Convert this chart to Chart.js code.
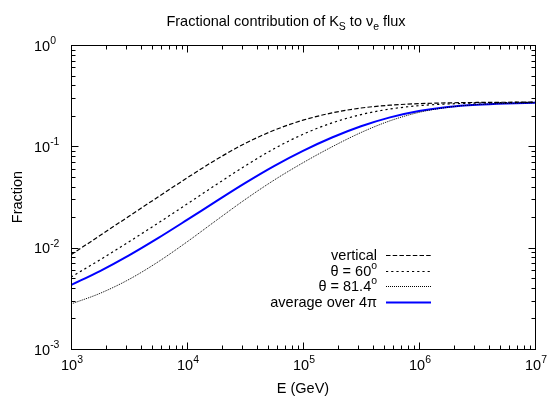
<!DOCTYPE html>
<html>
<head>
<meta charset="utf-8">
<script src="https://cdn.jsdelivr.net/npm/chart.js@4.4.1/dist/chart.umd.min.js"></script>
<style>
  body { margin: 0; background: #fff; }
  #wrap { width: 553px; height: 406px; }
</style>
</head>
<body>
<div id="wrap"><canvas id="fracChart" width="553" height="406"></canvas></div>
<script>
// Energy grid (GeV), quarter-decade steps
const energies = [1e3, 1.778e3, 3.162e3, 5.623e3, 1e4, 1.778e4, 3.162e4, 5.623e4, 1e5,
                  1.778e5, 3.162e5, 5.623e5, 1e6, 1.778e6, 3.162e6, 5.623e6, 1e7];

// Fraction of nu_e flux from K_S
const verticalVals = [0.00851, 0.01318, 0.02042, 0.03162, 0.04875, 0.07379, 0.1067, 0.1439, 0.1811,
                      0.2138, 0.2388, 0.2547, 0.2636, 0.2685, 0.2710, 0.2723, 0.2729];
const theta60Vals  = [0.00513, 0.00759, 0.01143, 0.01746, 0.02692, 0.04169, 0.06397, 0.09462, 0.1315,
                      0.1702, 0.2056, 0.2333, 0.2518, 0.2618, 0.2673, 0.2704, 0.2716];
const theta81Vals  = [0.00278, 0.00354, 0.00486, 0.00723, 0.01140, 0.01849, 0.02979, 0.04634, 0.06887,
                      0.09886, 0.1368, 0.1786, 0.2163, 0.2427, 0.2582, 0.2649, 0.2690];
const averageVals  = [0.00428, 0.00588, 0.00840, 0.01242, 0.01879, 0.02864, 0.04335, 0.06383, 0.09016,
                      0.1222, 0.1578, 0.1932, 0.2234, 0.2449, 0.2576, 0.2649, 0.2692];

// Labels (gnuplot-ish markup: ^ superscript, _ subscript)
const seriesNames = ['vertical', 'θ = 60^o', 'θ = 81.4^o', 'average over 4π'];
const titleText = 'Fractional contribution of K_S to ν_e flux';
const xTitle = 'E (GeV)';
const yTitle = 'Fraction';
const xTickExps = [3, 4, 5, 6, 7];
const yTickExps = [-3, -2, -1, 0];

const FONT = '"Liberation Sans", Arial, Helvetica, sans-serif';
const FS = 14.5;

function toPoints(vals) {
    return energies.map((e, i) => ({ x: e, y: vals[i] }));
}

function parseRich(s) {
    const parts = [];
    let buf = '', i = 0;
    while (i < s.length) {
        const c = s[i];
        if (c === '^' || c === '_') {
            if (buf) { parts.push({ t: buf }); buf = ''; }
            let t;
            if (s[i + 1] === '{') {
                const j = s.indexOf('}', i);
                t = s.slice(i + 2, j);
                i = j + 1;
            } else {
                t = s[i + 1];
                i += 2;
            }
            parts.push({ t, s: c === '^' ? 'sup' : 'sub' });
        } else {
            buf += c;
            i++;
        }
    }
    if (buf) parts.push({ t: buf });
    return parts;
}

// draws text with sub/superscripts, y = baseline
function drawRich(ctx, str, x, y, align, size) {
    const parts = parseRich(str);
    const small = size * 0.72;
    let total = 0;
    parts.forEach(p => {
        ctx.font = `${p.s ? small : size}px ${FONT}`;
        p.w = ctx.measureText(p.t).width;
        total += p.w;
    });
    let cx = x;
    if (align === 'center') cx = x - total / 2;
    else if (align === 'right') cx = x - total;
    ctx.textAlign = 'left';
    ctx.textBaseline = 'alphabetic';
    parts.forEach(p => {
        ctx.font = `${p.s ? small : size}px ${FONT}`;
        let dy = 0;
        if (p.s === 'sup') dy = -size * 0.45;
        if (p.s === 'sub') dy = size * 0.3;
        ctx.fillText(p.t, cx, y + dy);
        cx += p.w;
    });
}

const gnuplotDecor = {
    id: 'gnuplotDecor',
    afterDraw(chart) {
        const { ctx, chartArea: a, scales } = chart;
        const xs = scales.x, ys = scales.y;
        ctx.save();
        ctx.strokeStyle = '#000';
        ctx.fillStyle = '#000';
        ctx.lineWidth = 1;
        ctx.setLineDash([]);

        const L = Math.round(a.left) + 0.5, R = Math.round(a.right) + 0.5;
        const T = Math.round(a.top) + 0.5, B = Math.round(a.bottom) + 0.5;
        ctx.strokeRect(L, T, R - L, B - T);

        // inward ticks on all four sides
        ctx.beginPath();
        for (let e = 3; e <= 7; e++) {
            for (let m = 1; m <= 9; m++) {
                const v = m * Math.pow(10, e);
                if (v > 1e7) break;
                const px = Math.round(xs.getPixelForValue(v)) + 0.5;
                const len = m === 1 ? 7 : 4;
                ctx.moveTo(px, B); ctx.lineTo(px, B - len);
                ctx.moveTo(px, T); ctx.lineTo(px, T + len);
            }
        }
        for (let e = -3; e <= 0; e++) {
            for (let m = 1; m <= 9; m++) {
                const v = m * Math.pow(10, e);
                if (v > 1) break;
                const py = Math.round(ys.getPixelForValue(v)) + 0.5;
                const len = m === 1 ? 7 : 4;
                ctx.moveTo(L, py); ctx.lineTo(L + len, py);
                ctx.moveTo(R, py); ctx.lineTo(R - len, py);
            }
        }
        ctx.stroke();

        // tick labels
        xTickExps.forEach(e => {
            const px = xs.getPixelForValue(Math.pow(10, e));
            drawRich(ctx, `10^{${e}}`, px + 1, a.bottom + 21, 'center', FS);
        });
        yTickExps.forEach(e => {
            const py = ys.getPixelForValue(Math.pow(10, e));
            drawRich(ctx, `10^{${e}}`, 34, py + 5.5, 'left', FS);
        });

        // axis titles and chart title
        drawRich(ctx, xTitle, (a.left + a.right) / 2, 393, 'center', FS);
        ctx.save();
        ctx.translate(22, (a.top + a.bottom) / 2);
        ctx.rotate(-Math.PI / 2);
        drawRich(ctx, yTitle, 0, 0, 'center', FS);
        ctx.restore();
        drawRich(ctx, titleText, 286, 26, 'center', FS);

        // key, gnuplot style: right-justified text, sample to the right
        const rowY = [255, 270.5, 286, 301.5];
        chart.data.datasets.forEach((ds, i) => {
            const y = rowY[i];
            ctx.fillStyle = '#000';
            drawRich(ctx, ds.label, 377, y + 5, 'right', FS);
            ctx.strokeStyle = ds.borderColor;
            ctx.lineWidth = ds.borderWidth;
            ctx.setLineDash(ds.borderDash || []);
            ctx.beginPath();
            ctx.moveTo(386, Math.round(y) + 0.5);
            ctx.lineTo(431, Math.round(y) + 0.5);
            ctx.stroke();
        });
        ctx.restore();
    }
};

const lineStyles = [
    { color: '#000', width: 1.2, dash: [4.5, 2.2] },
    { color: '#000', width: 1.2, dash: [2.2, 3] },
    { color: '#000', width: 1, dash: [1, 1] },
    { color: '#0000ff', width: 2, dash: [] }
];
const seriesVals = [verticalVals, theta60Vals, theta81Vals, averageVals];

new Chart(document.getElementById('fracChart'), {
    type: 'line',
    data: {
        datasets: seriesVals.map((vals, i) => ({
            label: seriesNames[i],
            data: toPoints(vals),
            borderColor: lineStyles[i].color,
            borderWidth: lineStyles[i].width,
            borderDash: lineStyles[i].dash,
            pointRadius: 0,
            fill: false,
            cubicInterpolationMode: 'monotone'
        }))
    },
    options: {
        responsive: false,
        devicePixelRatio: 1,
        animation: false,
        layout: { padding: { left: 71, right: 18, top: 45, bottom: 57 } },
        plugins: {
            legend: { display: false },
            tooltip: { enabled: false },
            title: { display: false }
        },
        scales: {
            x: { type: 'logarithmic', min: 1e3, max: 1e7, display: false },
            y: { type: 'logarithmic', min: 1e-3, max: 1, display: false }
        }
    },
    plugins: [gnuplotDecor]
});
</script>
</body>
</html>
